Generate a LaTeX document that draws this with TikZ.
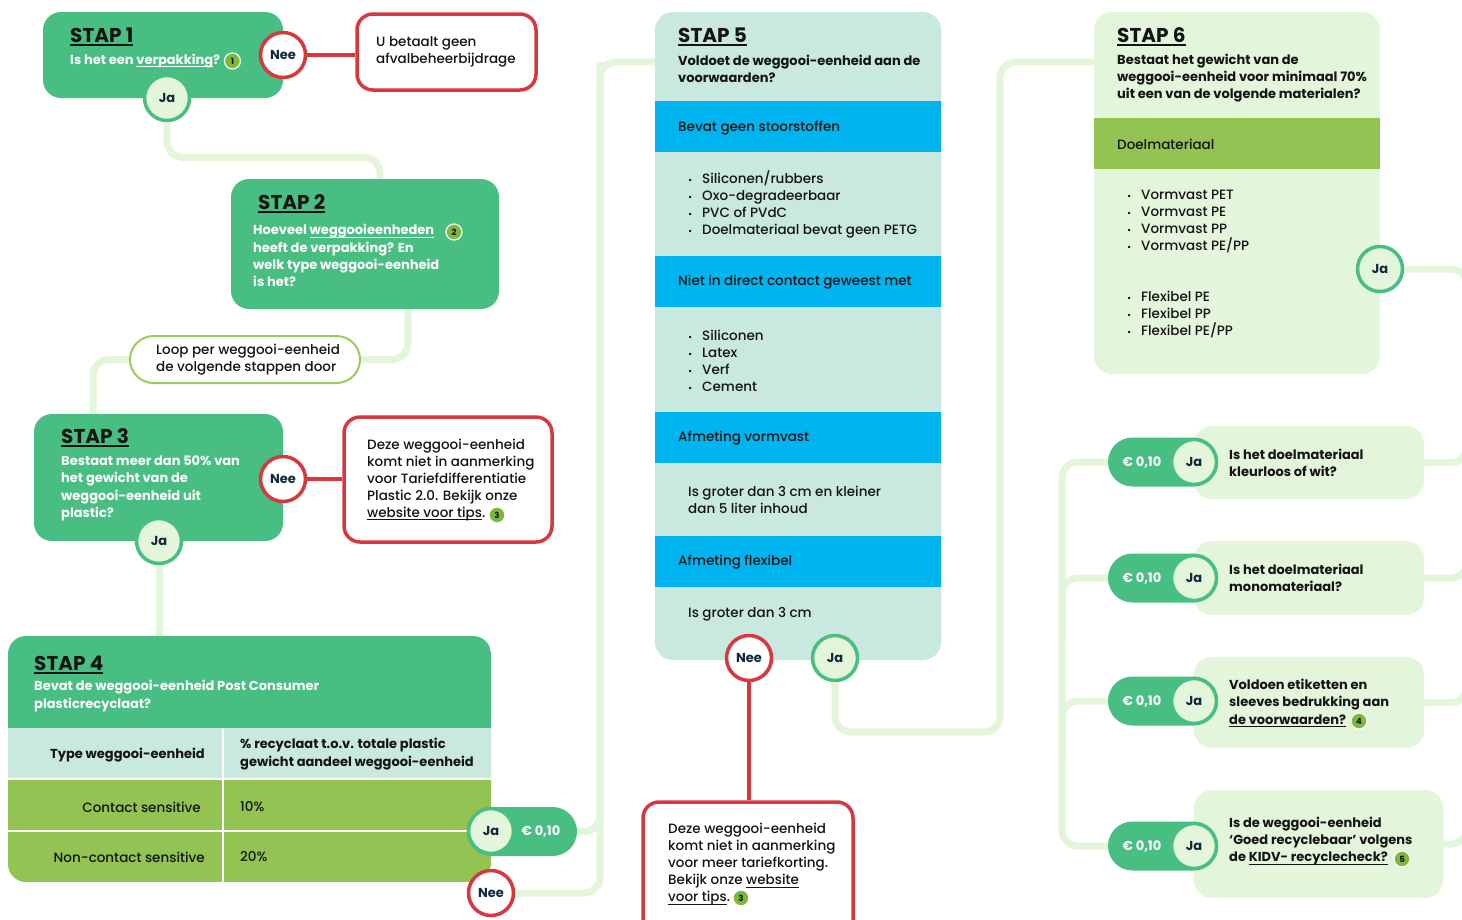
\documentclass[tikz,border=0pt]{standalone}
\usepackage{fontspec}
\setmainfont{Poppins}[UprightFont={* Medium}, BoldFont={* Bold}]
\newfontfamily\heavyfont{Poppins Bold}
\usetikzlibrary{calc}
\definecolor{dg}{HTML}{48BE82}
\definecolor{lg}{HTML}{E3F5DA}
\definecolor{lime}{HTML}{92C353}
\definecolor{tealbg}{HTML}{C8E8E0}
\definecolor{blueband}{HTML}{00B4F0}
\definecolor{redb}{HTML}{D7373D}
\definecolor{navy}{HTML}{10283C}
\definecolor{ink}{HTML}{141414}
\definecolor{badgec}{HTML}{7CB83B}
\definecolor{loopc}{HTML}{9BCB5A}
\pgfdeclarelayer{bg}
\pgfsetlayers{bg,main}
\newcommand{\myul}[3]{\leavevmode\setbox0=\hbox{#3}\rlap{\rule[-#2]{\wd0}{#1}}\box0}
\newcommand{\tul}[1]{\myul{1.8pt}{3.5pt}{#1}}
\newcommand{\sul}[1]{\myul{1.1pt}{3pt}{#1}}
\newcommand{\bul}{\makebox[14pt][l]{\fontsize{9}{9}\selectfont •}}
\begin{document}
\begin{tikzpicture}[x=1pt,y=-1pt,
  box/.style={rectangle, inner sep=0, rounded corners=18pt},
  stepbox/.style={box, fill=dg},
  redbox/.style={box, draw=redb, line width=3.5pt, fill=white, rounded corners=16pt},
  qbox/.style={box, fill=lg},
  circ/.style={circle, minimum size=45pt, inner sep=0, line width=3.5pt, font=\bfseries\fontsize{13}{13}\selectfont, text=navy},
  neec/.style={circ, draw=redb, fill=white},
  jac/.style={circ, draw=dg, fill=lg},
  pill/.style={rectangle, rounded corners=24.5pt, fill=dg, minimum width=110pt, minimum height=49pt, inner sep=0},
  eur/.style={text=white, font=\bfseries\fontsize{13}{13}\selectfont, inner sep=0},
  conn/.style={draw=lg, line width=7pt, rounded corners=16pt},
  redline/.style={draw=redb, line width=3.5pt},
  ttl/.style={anchor=west, inner sep=0, text=ink, font=\heavyfont\fontsize{20}{24}\selectfont},
  wtx/.style={anchor=west, inner sep=0, align=left, text=white, font=\bfseries\fontsize{13}{17.3}\selectfont},
  btx/.style={anchor=west, inner sep=0, align=left, text=ink, font=\bfseries\fontsize{13}{17.3}\selectfont},
  rtx/.style={anchor=west, inner sep=0, align=left, text=ink, font=\fontsize{13.5}{17}\selectfont},
  badge/.style={circle, fill=badgec, draw=white, line width=1.2pt, minimum size=16pt, inner sep=0, text=ink, font=\bfseries\fontsize{8.5}{8.5}\selectfont},
]
\useasboundingbox (0,0) rectangle (1462,919);

% ---------- STAP 1 ----------
\node[stepbox, minimum width=240pt, minimum height=86pt] (s1) at (163,55) {};
\node[redbox, minimum width=179pt, minimum height=76pt] (red1) at (446.5,52) {};
\node[neec] (nee1) at (283,55) {Nee};
\node[jac] (ja1) at (167,98) {Ja};
\node[ttl] (t1) at (70,37) {\tul{STAP 1}};
\node[wtx] (q1) at (70,61) {Is het een \sul{verpakking}?};
\node[badge] (b1) at ([xshift=12pt]q1.east) {1};
\node[rtx] (r1t) at (376,51.5) {U betaalt geen\\afvalbeheerbijdrage};

% ---------- STAP 2 ----------
\node[stepbox, minimum width=268pt, minimum height=130pt] (s2) at (365,244) {};
\node[ttl] (t2) at (258,204) {\tul{STAP 2}};
\node[wtx] (q2) at (253,255.5) {Hoeveel \sul{weggooieenheden}\\heeft de verpakking? En\\welk type weggooi-eenheid\\is het?};
\node[badge] (b2) at (454,232) {2};

\node[rectangle, rounded corners=23.5pt, draw=loopc, line width=2pt, fill=white, minimum width=230pt, minimum height=47pt, inner sep=0] (loop) at (245,359.5) {};
\node[rtx] (lt) at (156,359.5) {Loop per weggooi-eenheid\\de volgende stappen door};

% ---------- STAP 3 ----------
\node[stepbox, minimum width=249pt, minimum height=127pt] (s3) at (158.5,477.5) {};
\node[redbox, minimum width=208pt, minimum height=125pt] (red3) at (448,479.5) {};
\node[neec] (nee3) at (283,479) {Nee};
\node[jac] (ja3) at (159,541) {Ja};
\node[ttl] (t3) at (61,438) {\tul{STAP 3}};
\node[wtx] (q3) at (61,488.5) {Bestaat meer dan 50\% van\\het gewicht van de\\weggooi-eenheid uit\\plastic?};
\node[rtx] (r3t) at (367,480) {Deze weggooi-eenheid\\komt niet in aanmerking\\voor Tariefdifferentiatie\\Plastic 2.0. Bekijk onze\\\sul{website voor tips}.};
\node[badge] (b3) at (497,515) {3};

% ---------- STAP 4 ----------
\node[box, minimum width=483pt, minimum height=246pt] (s4) at (249.5,759) {};
\begin{scope}
\clip[rounded corners=18pt] (8,636) rectangle (491,882);
\fill[dg] (8,636) rectangle (491,728);
\fill[tealbg] (8,728) rectangle (491,779);
\fill[lime] (8,779) rectangle (491,882);
\draw[white, line width=2pt] (8,779) -- (491,779) (8,831) -- (491,831) (223,728) -- (223,882);
\end{scope}
\node[ttl] (t4) at (34,665) {\tul{STAP 4}};
\node[wtx] (q4) at (34,696) {Bevat de weggooi-eenheid Post Consumer\\plasticrecyclaat?};
\node[btx, anchor=east] (h1) at (205,755) {Type weggooi-eenheid};
\node[btx] (h2) at (240,754) {\% recyclaat t.o.v. totale plastic\\gewicht aandeel weggooi-eenheid};
\node[rtx, anchor=east] (c1) at (201,807) {Contact sensitive};
\node[rtx] (c2) at (240,807) {10\%};
\node[rtx, anchor=east] (c3) at (205,857) {Non-contact sensitive};
\node[rtx] (c4) at (240,857) {20\%};
\node[pill] (pill4) at (522,831.5) {};
\node[eur] (e4) at (541,831.5) {€ 0,10};
\node[jac] (ja4) at (491,831) {Ja};
\node[neec] (nee4) at (491,893) {Nee};

% ---------- STAP 5 ----------
\node[box, fill=tealbg, minimum width=286pt, minimum height=648pt] (s5) at (798,336) {};
\fill[blueband] (655,101) rectangle (941,152);
\fill[blueband] (655,256) rectangle (941,307);
\fill[blueband] (655,412) rectangle (941,463);
\fill[blueband] (655,536) rectangle (941,587);
\node[ttl] (t5) at (678,37) {\tul{STAP 5}};
\node[btx] (q5) at (678,68.5) {Voldoet de weggooi-eenheid aan de\\voorwaarden?};
\node[rtx] (b5a) at (678,128) {Bevat geen stoorstoffen};
\node[rtx] (l5a) at (688,204.5) {\bul Siliconen/rubbers\\\bul Oxo-degradeerbaar\\\bul PVC of PVdC\\\bul Doelmateriaal bevat geen PETG};
\node[rtx] (b5b) at (678,282) {Niet in direct contact geweest met};
\node[rtx] (l5b) at (688,361) {\bul Siliconen\\\bul Latex\\\bul Verf\\\bul Cement};
\node[rtx] (b5c) at (678,438) {Afmeting vormvast};
\node[rtx] (l5c) at (688,499.5) {Is groter dan 3 cm en kleiner\\dan 5 liter inhoud};
\node[rtx] (b5d) at (678,562) {Afmeting flexibel};
\node[rtx] (l5d) at (688,614) {Is groter dan 3 cm};
\node[neec] (nee5) at (749,658) {Nee};
\node[jac] (ja5) at (835,658) {Ja};
\node[redbox, minimum width=210pt, minimum height=143pt] (red5) at (748,873.5) {};
\node[rtx] (r5t) at (668,864.5) {Deze weggooi-eenheid\\komt niet in aanmerking\\voor meer tariefkorting.\\Bekijk onze \sul{website}\\\sul{voor tips}.};
\node[badge] (b5) at (741,898) {3};

% ---------- STAP 6 ----------
\node[box, fill=lg, minimum width=286pt, minimum height=362pt] (s6) at (1237,193) {};
\fill[lime] (1094,118) rectangle (1380,169);
\node[ttl] (t6) at (1117,37) {\tul{STAP 6}};
\node[btx] (q6) at (1117,78) {Bestaat het gewicht van de\\weggooi-eenheid voor minimaal 70\%\\uit een van de volgende materialen?};
\node[rtx] (b6) at (1117,144) {Doelmateriaal};
\node[rtx] (l6a) at (1127,221) {\bul Vormvast PET\\\bul Vormvast PE\\\bul Vormvast PP\\\bul Vormvast PE/PP};
\node[rtx] (l6b) at (1127,314) {\bul Flexibel PE\\\bul Flexibel PP\\\bul Flexibel PE/PP};
\node[jac] (ja6) at (1380,269) {Ja};

% ---------- right questions ----------
\node[qbox, minimum width=230pt, minimum height=73pt] (qA) at (1309,462.5) {};
\node[qbox, minimum width=230pt, minimum height=74pt] (qB) at (1309,578) {};
\node[qbox, minimum width=230pt, minimum height=91pt] (qC) at (1309,702.5) {};
\node[qbox, minimum width=249pt, minimum height=108pt] (qD) at (1318.5,844) {};
\foreach \n/\y in {A/462,B/578,C/701,D/846}{
  \node[pill] (p\n) at (1163,\y) {};
  \node[eur] (e\n) at (1142,\y) {€ 0,10};
  \node[jac] (j\n) at (1194,\y) {Ja};
}
\node[btx] (qtA) at (1229,462.5) {Is het doelmateriaal\\kleurloos of wit?};
\node[btx] (qtB) at (1229,578) {Is het doelmateriaal\\monomateriaal?};
\node[btx] (qtC) at (1229,703) {Voldoen etiketten en\\sleeves bedrukking aan\\\sul{de voorwaarden?}};
\node[badge] (b7) at (1359,721) {4};
\node[btx] (qtD) at (1229,841) {Is de weggooi-eenheid\\‘Goed recyclebaar’ volgens\\de \sul{KIDV- recyclecheck?}};
\node[badge] (b8) at (1402,859) {5};

% ---------- connectors ----------
\begin{pgfonlayer}{bg}
\begin{scope}
\clip (0,0) rectangle (1462,919);
\draw[conn] (ja1.south) -- ++(0,35) -| ([xshift=15pt]s2.north);
\draw[conn] ([xshift=43pt]s2.south) |- (loop.east);
\draw[conn] (loop.west) -| ([xshift=-65.5pt]s3.north);
\draw[conn] (ja3.south) -- (ja3 |- s4.north);
\coordinate (c5) at (600,62);
\draw[conn] (pill4.east) -| (c5) -- ([yshift=-50pt]s5.north west);
\draw[conn] (nee4.east) -| (c5);
\coordinate (c6) at (1000,732);
\draw[conn] (ja5.south) |- (c6) |- ([yshift=-50pt]s6.north west);
\draw[conn] (ja6.east) -| (1467,420);
\draw[conn] (qA.east) -| (1467,420);
\draw[conn] (qB.east) -| (1467,540);
\draw[conn] (qC.east) -| (1467,660);
\draw[conn] (qD.east) -| (1467,800);
\draw[conn] (pA.west) -| (1062,700) |- (pD.west);
\draw[conn] (pB.west) -| (1062,640);
\draw[conn] (pC.west) -| (1062,760);
\draw[redline] (nee1.east) -- (nee1.east -| red1.west);
\draw[redline] (nee3.east) -- (nee3.east -| red3.west);
\draw[redline] (nee5.south) -- (nee5.south |- red5.north);
\end{scope}
\end{pgfonlayer}
\end{tikzpicture}
\end{document}
